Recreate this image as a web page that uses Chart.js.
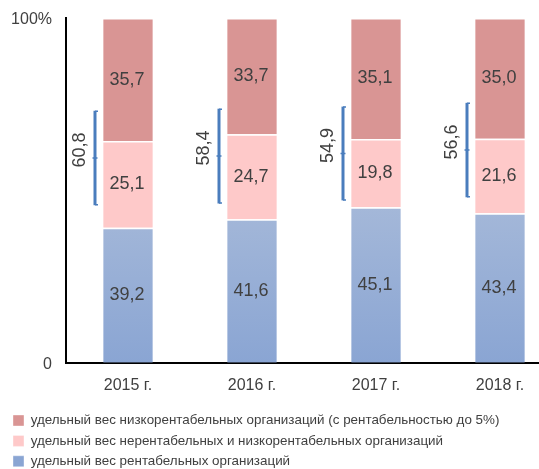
<!DOCTYPE html>
<html>
<head>
<meta charset="utf-8">
<script src="https://cdn.jsdelivr.net/npm/chart.js@4.4.1/dist/chart.umd.min.js"></script>
<style>
	html, body { margin: 0; padding: 0; background: #fff; overflow: hidden; }
	#wrap { width: 562px; height: 478px; position: relative; }
</style>
</head>
<body>
<div id="wrap"><canvas id="chart"></canvas></div>
<script>
const CATEGORIES = ["2015 г.", "2016 г.", "2017 г.", "2018 г."];

// Доли, % (снизу вверх)
const PROFITABLE = [39.2, 41.6, 45.1, 43.4];
const UNPROFITABLE = [25.1, 24.7, 19.8, 21.6];
const LOW_PROFIT = [35.7, 33.7, 35.1, 35.0];

// Скобки слева от столбцов: сумма и её пределы по оси (%)
const BRACKET_TOTAL = ["60,8", "58,4", "54,9", "56,6"];
const BRACKET_LOW = [45.7, 46.2, 47.1, 48.0];
const BRACKET_HIGH = [73.1, 73.7, 74.3, 75.4];

const Y_TICKS = { 0: "0", 100: "100%" };

const LEGEND_LABELS = [
	"удельный вес рентабельных организаций",
	"удельный вес нерентабельных и низкорентабельных организаций",
	"удельный вес низкорентабельных организаций (с рентабельностью до 5%)",
];

const FONT = "'Liberation Sans', Arial, sans-serif";
const INK = "#404040";

const fmt = (v) => v.toFixed(1).replace(".", ",");

// Blue segment has a soft vertical gradient
function blue_fill(ctx) {
	const chart = ctx.chart;
	const area = chart.chartArea;
	if (!area) return "#9fb4d8";
	const y = chart.scales.y;
	const g = chart.ctx.createLinearGradient(0, y.getPixelForValue(56), 0, area.bottom);
	g.addColorStop(0, "#aabcda");
	g.addColorStop(1, "#8aa5d3");
	return g;
}

// Values written in the middle of each segment
const segment_labels = {
	id: "segmentLabels",
	afterDatasetsDraw(chart) {
		const ctx = chart.ctx;
		ctx.save();
		ctx.fillStyle = INK;
		ctx.font = "18px " + FONT;
		ctx.textAlign = "center";
		ctx.textBaseline = "middle";
		chart.data.datasets.forEach((ds, di) => {
			chart.getDatasetMeta(di).data.forEach((bar, i) => {
				const p = bar.getProps(["x", "y", "base"], true);
				ctx.fillText(fmt(ds.data[i]), p.x - 1, (p.y + p.base) / 2);
			});
		});
		ctx.restore();
	},
};

// Blue brackets with rotated totals
const brackets = {
	id: "brackets",
	afterDatasetsDraw(chart) {
		const ctx = chart.ctx;
		const xs = chart.scales.x;
		const ys = chart.scales.y;
		ctx.save();
		CATEGORIES.forEach((c, i) => {
			const x = xs.getPixelForValue(i) - 33;
			const top = ys.getPixelForValue(BRACKET_HIGH[i]);
			const bot = ys.getPixelForValue(BRACKET_LOW[i]);
			const mid = (top + bot) / 2;
			ctx.strokeStyle = "#4a7dbd";
			ctx.lineWidth = 3;
			ctx.beginPath();
			ctx.moveTo(x, top);
			ctx.lineTo(x, bot);
			ctx.stroke();
			ctx.lineWidth = 1.5;
			ctx.beginPath();
			ctx.moveTo(x, top + 0.5);
			ctx.lineTo(x + 3, top + 0.5);
			ctx.moveTo(x, bot - 0.5);
			ctx.lineTo(x + 3, bot - 0.5);
			ctx.moveTo(x - 2.5, mid);
			ctx.lineTo(x + 2.5, mid);
			ctx.stroke();

			ctx.save();
			ctx.translate(x - 15, mid - 8);
			ctx.rotate(-Math.PI / 2);
			ctx.fillStyle = INK;
			ctx.font = "18px " + FONT;
			ctx.textAlign = "center";
			ctx.textBaseline = "middle";
			ctx.fillText(BRACKET_TOTAL[i], 0, 0);
			ctx.restore();
		});
		ctx.restore();
	},
};

new Chart(document.getElementById("chart"), {
	type: "bar",
	data: {
		labels: CATEGORIES,
		datasets: [
			{ label: LEGEND_LABELS[0], data: PROFITABLE, backgroundColor: blue_fill },
			{ label: LEGEND_LABELS[1], data: UNPROFITABLE, backgroundColor: "#fec9c9" },
			{ label: LEGEND_LABELS[2], data: LOW_PROFIT, backgroundColor: "#d99594" },
		].map((d) => Object.assign(d, {
			borderColor: "#ffffff",
			borderWidth: { top: 1.5 },
			borderSkipped: false,
			barPercentage: 0.4,
			categoryPercentage: 1,
		})),
	},
	plugins: [segment_labels, brackets],
	options: {
		responsive: true,
		maintainAspectRatio: false,
		animation: false,
		events: [],
		layout: { padding: { top: 18, left: 6, right: 0, bottom: 0 } },
		plugins: {
			tooltip: { enabled: false },
			legend: {
				position: "bottom",
				align: "start",
				reverse: true,
				labels: {
					color: INK,
					font: { family: FONT, size: 13.4 },
					boxWidth: 11,
					boxHeight: 11,
					padding: 7,
				},
			},
		},
		scales: {
			x: {
				stacked: true,
				grid: { display: false, drawTicks: false },
				border: { display: true, color: "#000", width: 2 },
				ticks: { color: INK, font: { family: FONT, size: 16 }, padding: 13 },
				afterFit: (s) => { s.height = 44; },
			},
			y: {
				stacked: true,
				min: 0,
				max: 100,
				grid: { display: false, drawTicks: false },
				border: { display: true, color: "#000", width: 2 },
				ticks: {
					stepSize: 100,
					color: INK,
					padding: 14,
					labelOffset: 2,
					font: { family: FONT, size: 16 },
					callback: (v) => Y_TICKS[v] !== undefined ? Y_TICKS[v] : "",
				},
				afterFit: (s) => {
					s.width = 60;
					s.paddingTop = 0;
					s.paddingBottom = 0;
				},
			},
		},
	},
});
</script>
</body>
</html>
